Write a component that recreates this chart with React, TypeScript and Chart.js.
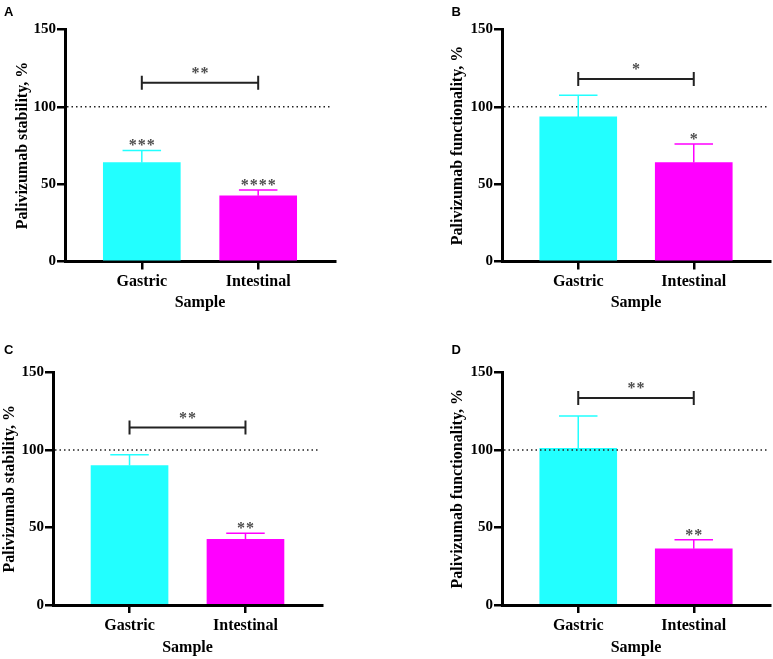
import React, { useEffect, useRef } from 'react';
import { Chart, registerables } from 'chart.js';

Chart.register(...registerables);

// ---------- data ----------
const CATEGORIES = ['Gastric', 'Intestinal'];
const Y_TICKS = [0, 50, 100, 150];
const REFERENCE_LEVEL = 100;
const X_AXIS_TITLE = 'Sample';
const STABILITY_TITLE = 'Palivizumab stability, %';
const FUNCTIONALITY_TITLE = 'Palivizumab functionality, %';

// Panel A – stability
const A_MEAN = [64, 42.5];
const A_ERROR = [7.8, 3.7];
const A_BAR_STARS = ['***', '****'];
const A_BRACKET_LEVEL = 115.5;
const A_BRACKET_STARS = '**';

// Panel B – functionality
const B_MEAN = [93.5, 64];
const B_ERROR = [14, 12];
const B_BAR_STARS = ['', '*'];
const B_BRACKET_LEVEL = 118;
const B_BRACKET_STARS = '*';

// Panel C – stability
const C_MEAN = [90, 42.4];
const C_ERROR = [7, 3.9];
const C_BAR_STARS = ['', '**'];
const C_BRACKET_LEVEL = 114.5;
const C_BRACKET_STARS = '**';

// Panel D – functionality
const D_MEAN = [101, 36.3];
const D_ERROR = [21, 5.8];
const D_BAR_STARS = ['', '**'];
const D_BRACKET_LEVEL = 133.5;
const D_BRACKET_STARS = '**';

// ---------- styles ----------
const BAR_COLORS = ['#22FFFF', '#FF00FF'];
const SERIF = '"Liberation Serif", "Times New Roman", serif';
const SANS = '"Liberation Sans", Arial, sans-serif';
const X_MIN = 0.34;
const X_MAX = 2.66;

type Box = { left: number; top: number; width: number; height: number };
type PanelCfg = {
  letter: string;
  title: string;
  mean: number[];
  error: number[];
  barStars: string[];
  bracket: number;
  bracketStars: string;
  box: Box;
  axisX: number;
  plotTop: number;
  plotBottom: number;
  plotRight: number;
  yTitlePad: number;
  xTitlePad: number;
  letterPos: [number, number];
};

const PANELS: PanelCfg[] = [
  {
    letter: 'A', title: STABILITY_TITLE, mean: A_MEAN, error: A_ERROR, barStars: A_BAR_STARS,
    bracket: A_BRACKET_LEVEL, bracketStars: A_BRACKET_STARS,
    box: { left: 0, top: 0, width: 386, height: 320 },
    axisX: 65, plotTop: 29.5, plotBottom: 261.5, plotRight: 335, yTitlePad: 12.9, xTitlePad: 8,
    letterPos: [4, 16],
  },
  {
    letter: 'B', title: FUNCTIONALITY_TITLE, mean: B_MEAN, error: B_ERROR, barStars: B_BAR_STARS,
    bracket: B_BRACKET_LEVEL, bracketStars: B_BRACKET_STARS,
    box: { left: 386, top: 0, width: 387, height: 320 },
    axisX: 502, plotTop: 29.5, plotBottom: 261.5, plotRight: 770, yTitlePad: 61.9, xTitlePad: 8,
    letterPos: [65.5, 15.5],
  },
  {
    letter: 'C', title: STABILITY_TITLE, mean: C_MEAN, error: C_ERROR, barStars: C_BAR_STARS,
    bracket: C_BRACKET_LEVEL, bracketStars: C_BRACKET_STARS,
    box: { left: 0, top: 320, width: 386, height: 339 },
    axisX: 53, plotTop: 372.5, plotBottom: 605, plotRight: 322, yTitlePad: 0, xTitlePad: 2,
    letterPos: [4, 33.5],
  },
  {
    letter: 'D', title: FUNCTIONALITY_TITLE, mean: D_MEAN, error: D_ERROR, barStars: D_BAR_STARS,
    bracket: D_BRACKET_LEVEL, bracketStars: D_BRACKET_STARS,
    box: { left: 386, top: 320, width: 387, height: 339 },
    axisX: 502, plotTop: 372.5, plotBottom: 605, plotRight: 770, yTitlePad: 61.9, xTitlePad: 2,
    letterPos: [65.5, 33.5],
  },
];

function drawStars(ctx: CanvasRenderingContext2D, text: string, cx: number, cy: number) {
  if (!text) return;
  const pitch = 9;
  const n = text.length;
  ctx.save();
  ctx.fillStyle = '#4d4d4d';
  ctx.font = `bold 16px ${SERIF}`;
  ctx.textAlign = 'center';
  ctx.textBaseline = 'alphabetic';
  for (let k = 0; k < n; k++) {
    const x = cx - ((n - 1) * pitch) / 2 + k * pitch;
    ctx.fillText(text[k], x, cy + 8);
  }
  ctx.restore();
}

function makeAnnotations(cfg: PanelCfg) {
  return {
    id: 'annot' + cfg.letter,
    afterDatasetsDraw(chart: any) {
      const { ctx, chartArea, scales } = chart;
      const x = scales.x;
      const y = scales.y;
      ctx.save();
      // dotted reference line
      const ry = y.getPixelForValue(REFERENCE_LEVEL);
      ctx.setLineDash([1.5, 3]);
      ctx.lineWidth = 1.5;
      ctx.strokeStyle = '#222';
      ctx.beginPath();
      ctx.moveTo(chartArea.left + 2, ry);
      ctx.lineTo(chartArea.right - 3, ry);
      ctx.stroke();
      ctx.setLineDash([]);

      // error bars + stars
      const meta = chart.getDatasetMeta(0);
      cfg.mean.forEach((m, i) => {
        const bar = meta.data[i];
        const cx = x.getPixelForValue(i + 1);
        const half = bar.width / 4;
        const y0 = y.getPixelForValue(m);
        const y1 = y.getPixelForValue(m + cfg.error[i]);
        ctx.strokeStyle = BAR_COLORS[i];
        ctx.lineWidth = 1.5;
        ctx.beginPath();
        ctx.moveTo(cx, y0);
        ctx.lineTo(cx, y1);
        ctx.moveTo(cx - half, y1);
        ctx.lineTo(cx + half, y1);
        ctx.stroke();
        drawStars(ctx, cfg.barStars[i], cx, y1 - 8);
      });

      // significance bracket
      const by = y.getPixelForValue(cfg.bracket);
      const bx1 = x.getPixelForValue(1);
      const bx2 = x.getPixelForValue(2);
      ctx.strokeStyle = '#222';
      ctx.lineWidth = 2;
      ctx.beginPath();
      ctx.moveTo(bx1, by);
      ctx.lineTo(bx2, by);
      ctx.moveTo(bx1, by - 7);
      ctx.lineTo(bx1, by + 7);
      ctx.moveTo(bx2, by - 7);
      ctx.lineTo(bx2, by + 7);
      ctx.stroke();
      drawStars(ctx, cfg.bracketStars, (bx1 + bx2) / 2, by - 13);
      ctx.restore();
    },
    afterDraw(chart: any) {
      const ctx = chart.ctx;
      ctx.save();
      ctx.fillStyle = '#000';
      ctx.font = `bold 13px ${SANS}`;
      ctx.textAlign = 'left';
      ctx.textBaseline = 'alphabetic';
      ctx.fillText(cfg.letter, cfg.letterPos[0], cfg.letterPos[1]);
      ctx.restore();
    },
  };
}

function Panel({ cfg }: { cfg: PanelCfg }) {
  const ref = useRef<HTMLCanvasElement>(null);
  const b = cfg.box;
  useEffect(() => {
    const canvas = ref.current;
    if (!canvas) return;
    const axisFont = { family: SERIF, size: 16, weight: 'bold' as const };
    const chart = new Chart(canvas, {
      type: 'bar',
      data: {
        datasets: [
          {
            data: CATEGORIES.map((_, i) => ({ x: i + 1, y: cfg.mean[i] })) as any,
            backgroundColor: BAR_COLORS,
            borderWidth: 0,
            barThickness: 77,
          },
        ],
      },
      options: {
        responsive: false,
        animation: false,
        devicePixelRatio: 1,
        events: [],
        layout: {
          padding: {
            left: 0,
            top: cfg.plotTop - b.top,
            right: b.left + b.width - cfg.plotRight,
            bottom: 0,
          },
        },
        plugins: {
          legend: { display: false },
          tooltip: { enabled: false },
          title: { display: false },
        },
        scales: {
          x: {
            type: 'linear',
            min: X_MIN,
            max: X_MAX,
            offset: false,
            bounds: 'data',
            afterBuildTicks: (s: any) => {
              s.ticks = CATEGORIES.map((_, i) => ({ value: i + 1 }));
            },
            afterFit: (s: any) => {
              s.height = b.top + b.height - cfg.plotBottom;
            },
            grid: {
              display: true,
              drawOnChartArea: false,
              drawTicks: true,
              tickLength: 8,
              color: '#000',
              lineWidth: 2.5,
              offset: false,
            },
            border: { display: true, color: '#000', width: 3 },
            ticks: {
              callback: (v: any) => CATEGORIES[Math.round(Number(v)) - 1] ?? '',
              font: axisFont,
              color: '#000',
              padding: 3,
              maxRotation: 0,
              autoSkip: false,
            },
            title: {
              display: true,
              text: X_AXIS_TITLE,
              font: axisFont,
              color: '#000',
              padding: { top: 0, bottom: cfg.xTitlePad },
            },
          },
          y: {
            type: 'linear',
            min: 0,
            max: 150,
            afterBuildTicks: (s: any) => {
              s.ticks = Y_TICKS.map((v) => ({ value: v }));
            },
            afterFit: (s: any) => {
              s.width = cfg.axisX - b.left;
            },
            grid: {
              display: true,
              drawOnChartArea: false,
              drawTicks: true,
              tickLength: 8,
              color: '#000',
              lineWidth: 2.5,
            },
            border: { display: true, color: '#000', width: 3 },
            ticks: {
              font: { family: SERIF, size: 15, weight: 'bold' as const },
              color: '#000',
              padding: 1,
            },
            title: {
              display: true,
              text: cfg.title,
              font: axisFont,
              color: '#000',
              padding: { top: cfg.yTitlePad, bottom: 0 },
            },
          },
        },
      } as any,
      plugins: [makeAnnotations(cfg)],
    });
    return () => chart.destroy();
  }, [cfg]);
  return (
    <canvas
      ref={ref}
      width={b.width}
      height={b.height}
      style={{ position: 'absolute', left: b.left, top: b.top, width: b.width, height: b.height }}
    />
  );
}

export default function App() {
  return (
    <div style={{ position: 'absolute', left: 0, top: 0, width: 773, height: 659, background: '#fff' }}>
      {PANELS.map((p) => (
        <Panel key={p.letter} cfg={p} />
      ))}
    </div>
  );
}
